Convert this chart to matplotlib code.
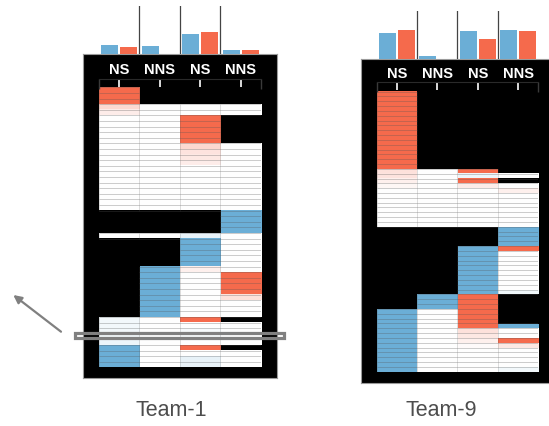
import numpy as np
import matplotlib.pyplot as plt
from matplotlib.colors import LinearSegmentedColormap
from matplotlib.patches import Rectangle

nan = np.nan

col_labels = ['NS', 'NNS', 'NS', 'NNS']
team_names = ['Team-1', 'Team-9']

# bar heights above each column (fraction of the bar strip)
team1_blue = [0.19, 0.18, 0.41, 0.08]
team1_red = [0.16, 0.0, 0.47, 0.08]
team9_blue = [0.53, 0.05, 0.58, 0.61]
team9_red = [0.59, 0.0, 0.41, 0.58]

# heatmap rows as (repeat, [NS, NNS, NS, NNS]); nan = no data (black)
team1_blocks = [
    (3, [1, nan, nan, nan]),
    (1, [0.25, 0, 0, 0]),
    (1, [0.12, 0, 0, 0]),
    (5, [0, 0, 1, nan]),
    (1, [0, 0, 0.25, 0]),
    (1, [0, 0, 0.18, 0]),
    (1, [0, 0, 0.15, 0]),
    (1, [0, 0, 0.12, 0]),
    (8, [0, 0, 0, 0]),
    (4, [nan, nan, nan, -1]),
    (1, [0, 0, -0.15, 0]),
    (5, [nan, nan, -1, 0]),
    (1, [nan, -1, 0.1, 0]),
    (4, [nan, -1, 0, 1]),
    (1, [nan, -1, 0, 0.2]),
    (3, [nan, -1, 0, 0]),
    (1, [-0.08, 0, 1, nan]),
    (1, [-0.08, 0, 0, 0]),
    (2, [-0.08, 0, -0.06, 0]),
    (1, [-0.12, 0, 0, 0]),
    (1, [-1, 0, 1, nan]),
    (1, [-1, 0, 0, 0]),
    (2, [-1, 0, -0.15, 0]),
]

team9_blocks = [
    (16, [1, nan, nan, nan]),
    (1, [0.2, 0, 1, nan]),
    (1, [0.18, 0, -0.12, 0]),
    (1, [0.1, 0, 1, nan]),
    (1, [0.05, 0, 0.12, 0]),
    (1, [0, 0, 0, 0.1]),
    (7, [0, 0, 0, 0]),
    (4, [nan, nan, nan, -1]),
    (1, [nan, nan, -1, 1]),
    (8, [nan, nan, -1, 0]),
    (1, [nan, nan, -1, -0.1]),
    (3, [nan, -1, 1, nan]),
    (3, [-1, 0, 1, nan]),
    (1, [-1, 0, 1, -1]),
    (1, [-1, 0, 0.2, 0]),
    (1, [-1, 0, 0.15, 0]),
    (1, [-1, 0, 0.1, 1]),
    (1, [-1, 0, 0.03, 0.15]),
    (4, [-1, 0, 0, 0]),
    (1, [-1, 0, 0, -0.08]),
]

BLUE = '#6baed6'
RED = '#f56a4c'
cmap = LinearSegmentedColormap.from_list('bwr_soft', [BLUE, 'white', RED]).with_extremes(bad='black')

W, H = 549, 426


def box(x0, y0, x1, y1):
    # pixel box (top-left origin) -> figure fraction
    return [x0 / W, 1 - y1 / H, (x1 - x0) / W, (y1 - y0) / H]


def expand(blocks):
    rows = []
    for k, r in blocks:
        rows += [r] * k
    return np.array(rows, dtype=float)


def draw_heatmap(ax, data, top_pad):
    n = data.shape[0]
    ax.imshow(data, cmap=cmap, vmin=-1, vmax=1, aspect='auto', interpolation='nearest')
    ax.set_facecolor('black')
    ax.set_xlim(-0.5, 3.5)
    ax.set_ylim(n - 0.5, -0.5 - top_pad)

    # row lines only where there is data
    hy, hx0, hx1 = [], [], []
    for c in range(4):
        for b in range(n + 1):
            above = data[b - 1, c] if b > 0 else nan
            below = data[b, c] if b < n else nan
            if not (np.isnan(above) and np.isnan(below)):
                hy.append(b - 0.5)
                hx0.append(c - 0.5)
                hx1.append(c + 0.5)
    ax.hlines(hy, hx0, hx1, color='#555555', alpha=0.3, lw=0.7)

    vx, vy0, vy1 = [], [], []
    for r in range(n):
        for b in range(5):
            left = data[r, b - 1] if b > 0 else nan
            right = data[r, b] if b < 4 else nan
            if not (np.isnan(left) and np.isnan(right)):
                vx.append(b - 0.5)
                vy0.append(r - 0.5)
                vy1.append(r + 0.5)
    ax.vlines(vx, vy0, vy1, color='#555555', alpha=0.2, lw=0.7)

    ax.xaxis.tick_top()
    ax.set_xticks(range(4))
    ax.set_xticklabels(col_labels, color='white', fontweight='bold', fontsize=10.5,
                       family='Liberation Sans')
    ax.tick_params(axis='x', which='major', direction='in', length=5.5, width=1.2,
                   color='white', pad=1)
    ax.set_xticks([-0.5, 3.5], minor=True)
    ax.tick_params(axis='x', which='minor', direction='in', length=7, width=1,
                   color='#3a3a3a', top=True, bottom=False)
    ax.set_yticks([])
    for s in ['left', 'right', 'bottom']:
        ax.spines[s].set_visible(False)
    ax.spines['top'].set_color('#2a2a2a')


def draw_bars(ax, blue, red):
    x = np.arange(4)
    ax.bar(x - 0.235, blue, width=0.42, color=BLUE)
    ax.bar(x + 0.235, red, width=0.42, color=RED)
    for b in [0.5, 1.5, 2.5]:
        ax.axvline(b, color='#444444', lw=0.9)
    ax.set_xlim(-0.5, 3.5)
    ax.set_ylim(0, 1)
    ax.axis('off')


fig = plt.figure(figsize=(5.49, 4.26), dpi=100)

panels = [
    # black box, heatmap box, bar box, row height in px
    (team1_blocks, team1_blue, team1_red,
     (82.7, 54.3, 277, 377.7), (98.7, 78.5, 261, 367.3), (98.7, 6, 261, 54.3), 5.6),
    (team9_blocks, team9_blue, team9_red,
     (361, 59.3, 556, 383.3), (376.7, 82, 538.3, 371.7), (376.7, 11, 538.3, 58.5), 4.83),
]

for blocks, blue, red, bg_box, hm_box, bar_box, row_h in panels:
    bg = fig.add_axes(box(*bg_box))
    bg.set_facecolor('black')
    bg.set_xticks([])
    bg.set_yticks([])
    for s in bg.spines.values():
        s.set_color('#9a9a9a')
        s.set_linewidth(0.8)

    data = expand(blocks)
    hm = fig.add_axes(box(*hm_box))
    top_pad = (hm_box[3] - hm_box[1] - data.shape[0] * row_h) / row_h
    draw_heatmap(hm, data, top_pad)

    bx = fig.add_axes(box(*bar_box))
    draw_bars(bx, blue, red)

# overlay for highlight, arrow and captions
ov = fig.add_axes([0, 0, 1, 1])
ov.set_xlim(0, W)
ov.set_ylim(H, 0)
ov.axis('off')
ov.add_patch(Rectangle((75, 333.3), 208.5, 5, fill=False, ec='#808080', lw=2.3))
ov.annotate('', xy=(13.3, 295), xytext=(61, 331.7),
            arrowprops=dict(arrowstyle='-|>', color='#808080', lw=1.6,
                            mutation_scale=12, shrinkA=0, shrinkB=0))
ov.text(171, 410, team_names[0], ha='center', va='center', fontsize=15.5,
        color='#4d4d4d', family='Liberation Sans')
ov.text(441, 410, team_names[1], ha='center', va='center', fontsize=15.5,
        color='#4d4d4d', family='Liberation Sans')

fig.savefig('out.png', dpi=100)
